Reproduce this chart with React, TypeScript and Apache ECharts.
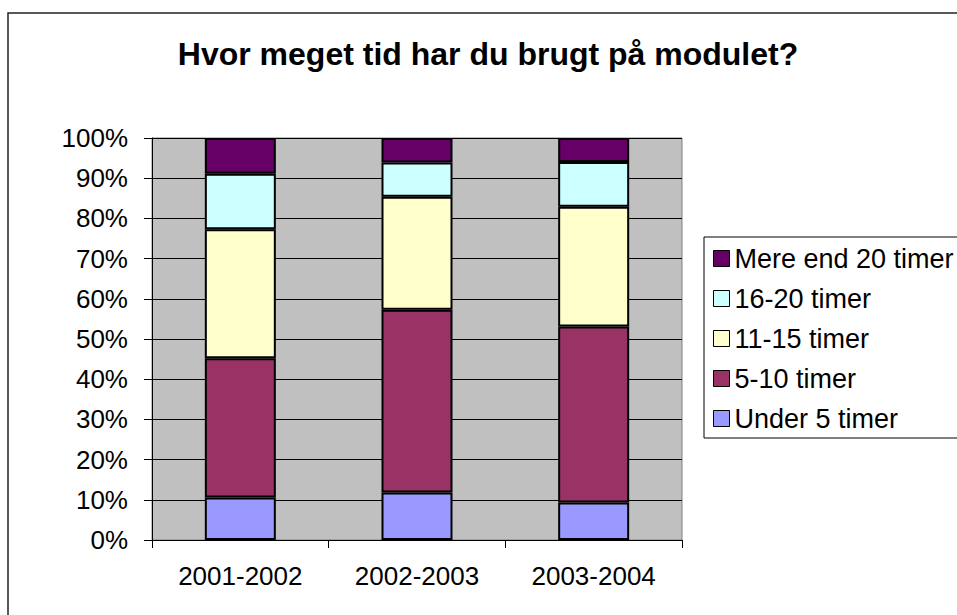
import React, { useEffect, useRef } from "react";
import * as echarts from "echarts";

const categories = ["2001-2002", "2002-2003", "2003-2004"];
const under5 = [10.6, 11.8, 9.3];
const h5to10 = [34.6, 45.5, 43.8];
const h11to15 = [32.1, 28.1, 29.8];
const h16to20 = [13.8, 8.5, 11.1];
const over20 = [8.9, 6.1, 6.0];
const seriesNames = ["Under 5 timer", "5-10 timer", "11-15 timer", "16-20 timer", "Mere end 20 timer"];
const seriesColors = ["#9999FF", "#993366", "#FFFFCC", "#CCFFFF", "#660066"];
const titleText = "Hvor meget tid har du brugt på modulet?";

const FONT = "'Liberation Sans', Arial, sans-serif";

export default function App() {
  const ref = useRef<HTMLDivElement>(null);
  useEffect(() => {
    if (!ref.current) return;
    const chart = echarts.init(ref.current, undefined, { renderer: "svg" });
    const values = [under5, h5to10, h11to15, h16to20, over20];
    chart.setOption({
      animation: false,
      backgroundColor: "#FFFFFF",
      textStyle: { fontFamily: FONT },
      graphic: [
        {
          type: "rect",
          shape: { x: 8, y: 13, width: 1000, height: 700 },
          style: { fill: "none", stroke: "#222", lineWidth: 1.5 },
          z: 0,
        },
        {
          type: "text",
          x: 488,
          y: 54,
          style: {
            text: titleText,
            fontFamily: FONT,
            fontSize: 32,
            fontWeight: "bold",
            fill: "#000",
            textAlign: "center",
            textVerticalAlign: "middle",
          },
        },
      ],
      legend: {
        orient: "vertical",
        left: 704,
        top: 237,
        padding: [8, 30, 6, 9],
        borderColor: "#000",
        borderWidth: 1,
        backgroundColor: "#FFFFFF",
        itemWidth: 16,
        itemHeight: 16,
        itemGap: 13,
        icon: "rect",
        itemStyle: { borderColor: "#000", borderWidth: 1 },
        textStyle: { fontFamily: FONT, fontSize: 27, lineHeight: 26, color: "#000" },
        data: [...seriesNames].reverse(),
      },
      grid: {
        left: 152,
        right: 275,
        top: 138,
        bottom: 75,
        show: true,
        backgroundColor: "#C0C0C0",
        borderColor: "#808080",
        borderWidth: 1,
      },
      xAxis: {
        type: "category",
        data: categories,
        axisLine: { lineStyle: { color: "#000", width: 1 } },
        axisTick: { show: true, length: 8, inside: false, lineStyle: { color: "#000" } },
        axisLabel: { fontFamily: FONT, fontSize: 26, color: "#000", margin: 23 },
      },
      yAxis: {
        type: "value",
        min: 0,
        max: 100,
        interval: 10,
        axisLine: { show: true, lineStyle: { color: "#000", width: 1 } },
        axisTick: { show: true, length: 8, lineStyle: { color: "#000" } },
        axisLabel: { fontFamily: FONT, fontSize: 26, color: "#000", margin: 24, formatter: "{value}%" },
        splitLine: { show: true, lineStyle: { color: "#000", width: 1 } },
      },
      series: seriesNames.map((name, i) => ({
        name,
        type: "bar",
        stack: "total",
        barWidth: 71,
        data: values[i],
        itemStyle: { color: seriesColors[i], borderColor: "#000", borderWidth: 2 },
      })),
    });
    return () => chart.dispose();
  }, []);
  return (
    <div
      ref={ref}
      style={{ position: "absolute", left: 0, top: 0, width: 957, height: 615 }}
    />
  );
}
